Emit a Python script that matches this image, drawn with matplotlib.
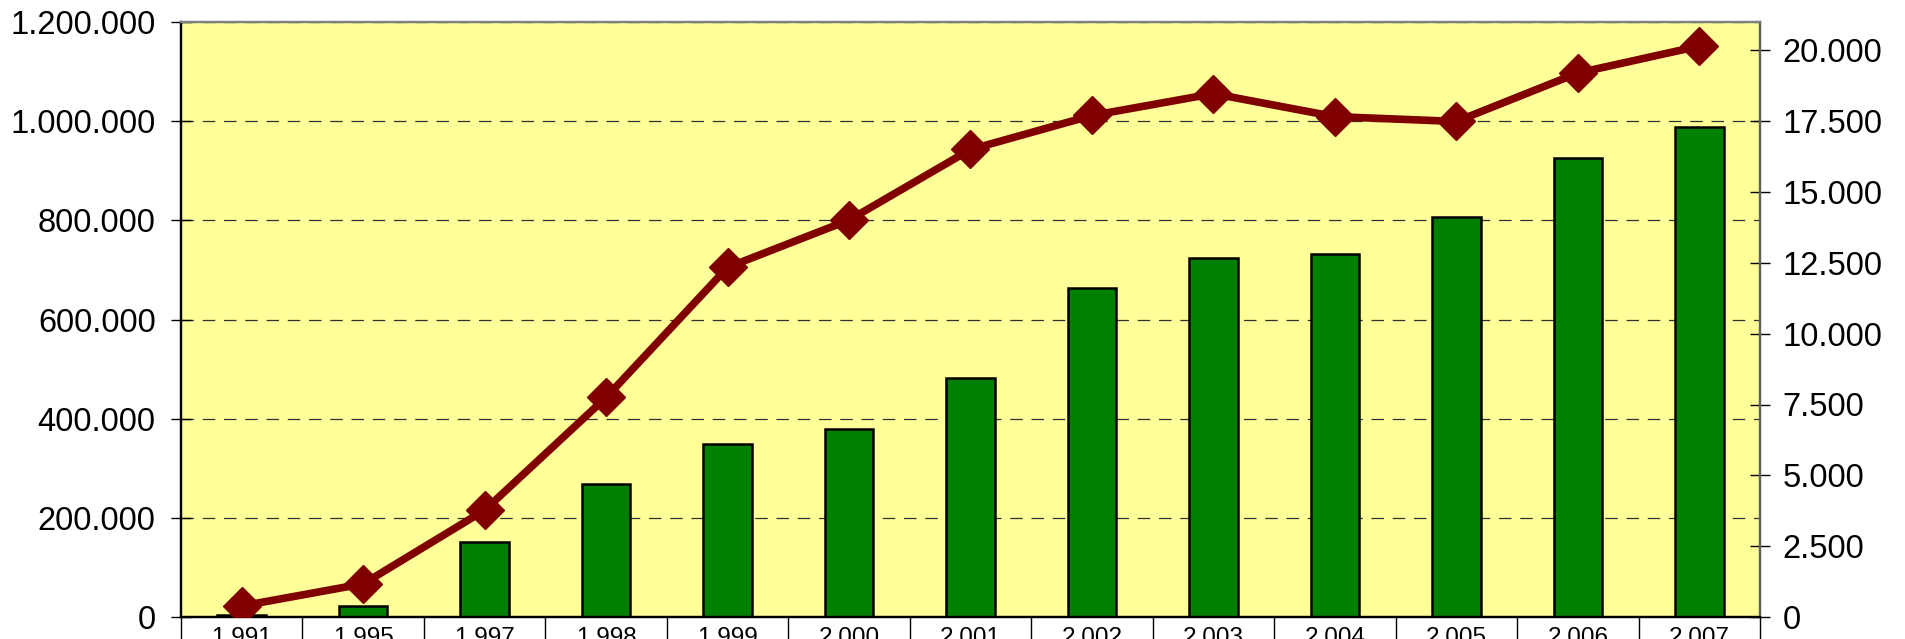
import matplotlib
matplotlib.use("Agg")
import matplotlib.pyplot as plt
from matplotlib.ticker import FuncFormatter, MultipleLocator, FixedLocator

# data
years = ["1.991", "1.995", "1.997", "1.998", "1.999", "2.000", "2.001",
         "2.002", "2.003", "2.004", "2.005", "2.006", "2.007"]
bars = [5000, 23000, 152000, 268000, 349000, 379000, 482000,
        663000, 725000, 732000, 806000, 926000, 988000]
line = [390, 1170, 3770, 7750, 12340, 14010, 16500,
        17700, 18470, 17660, 17490, 19200, 20150]

plt.rcParams['font.family'] = ['Liberation Sans', 'DejaVu Sans']

def dots(v, pos):
    return f"{int(round(v)):,}".replace(",", ".")

fig = plt.figure(figsize=(19.06, 6.39), dpi=100)
ax = fig.add_axes([181/1906, 22/639, (1760-181)/1906, (617-22)/639])
ax.set_facecolor("#FFFF99")

x = list(range(len(years)))
ax.bar(x, bars, width=0.4, color="#008000", edgecolor="black", linewidth=1.8, zorder=2)
ax.set_xlim(-0.5, len(years) - 0.5)
ax.set_ylim(0, 1200000)
ax.yaxis.set_major_locator(MultipleLocator(200000))
ax.yaxis.set_major_formatter(FuncFormatter(dots))
ax.set_axisbelow(True)
ax.yaxis.grid(True, color="#303030", linewidth=0.9, linestyle=(0, (10, 7)))

ax.set_xticks(x)
ax.set_xticklabels(years)
ax.xaxis.set_minor_locator(FixedLocator([i - 0.5 for i in range(len(years) + 1)]))
ax.tick_params(axis="x", which="major", length=0, pad=7, labelsize=17.5)
ax.tick_params(axis="x", which="minor", length=18, width=1, color="black", direction="out")
ax.tick_params(axis="y", direction="inout", length=14.5, width=1, pad=11, labelsize=23.5)

ax2 = ax.twinx()
ax2.plot(x, line, color="#800000", linewidth=5.5, marker="D", markersize=19,
         markeredgewidth=1, markeredgecolor="#800000", zorder=3)
ax2.set_ylim(0, 21000)
ax2.yaxis.set_major_locator(MultipleLocator(2500))
ax2.yaxis.set_major_formatter(FuncFormatter(dots))
ax2.tick_params(axis="y", direction="inout", length=14.5, width=1, pad=9, labelsize=23.5)

for a in (ax, ax2):
    a.spines["top"].set_color("#808080")
    a.spines["top"].set_linewidth(1.6)
    a.spines["right"].set_color("#606060")
    a.spines["right"].set_linewidth(1.6)
    a.spines["left"].set_color("black")
    a.spines["left"].set_linewidth(1.6)
    a.spines["bottom"].set_color("black")
    a.spines["bottom"].set_linewidth(1.6)

fig.savefig("out.png", dpi=100)
